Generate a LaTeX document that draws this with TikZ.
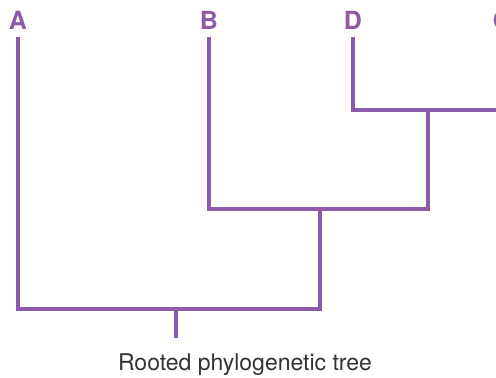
\documentclass[tikz,border=0pt]{standalone}
\usepackage{fontspec}
\setmainfont{TeX Gyre Heros}
\definecolor{branch}{HTML}{8C5BA7}
\definecolor{caption}{HTML}{333333}
\begin{document}
\begin{tikzpicture}[x=1pt,y=-1pt,
  edge/.style={draw=branch,line width=4.5pt,line cap=butt,line join=miter},
  taxon/.style={anchor=base,text=branch,font=\fontsize{25}{28}\selectfont\bfseries,inner sep=0pt},
  title/.style={anchor=base,text=caption,font=\fontsize{23}{27}\selectfont,inner sep=0pt}]
  \useasboundingbox (0,0) rectangle (496,378);
  \clip (0,0) rectangle (496,378);
  % taxon labels
  \node[taxon] (lA) at (18,29) {A};
  \node[taxon] (lB) at (209,29) {B};
  \node[taxon] (lD) at (353,29) {D};
  \node[taxon] (lC) at (502,29) {C};
  % branch points
  \coordinate (tA) at (18,37);
  \coordinate (tB) at (209,37);
  \coordinate (tD) at (353,37);
  \coordinate (tC) at (502,37);
  \coordinate (nDC) at (428,110);
  \coordinate (nBDC) at (320,209);
  \coordinate (root) at (176,309);
  \coordinate (base) at (176,338);
  % branches
  \draw[edge] (tD) |- (tC |- nDC) -- (tC);
  \draw[edge] (nDC) |- (tB |- nBDC) -- (tB);
  \draw[edge] (nDC) |- (nBDC);
  \draw[edge] (nBDC) |- (tA |- root) -- (tA);
  \draw[edge] (root) -- (base);
  % caption
  \node[title] (cap) at (245,370) {Rooted phylogenetic tree};
\end{tikzpicture}
\end{document}
